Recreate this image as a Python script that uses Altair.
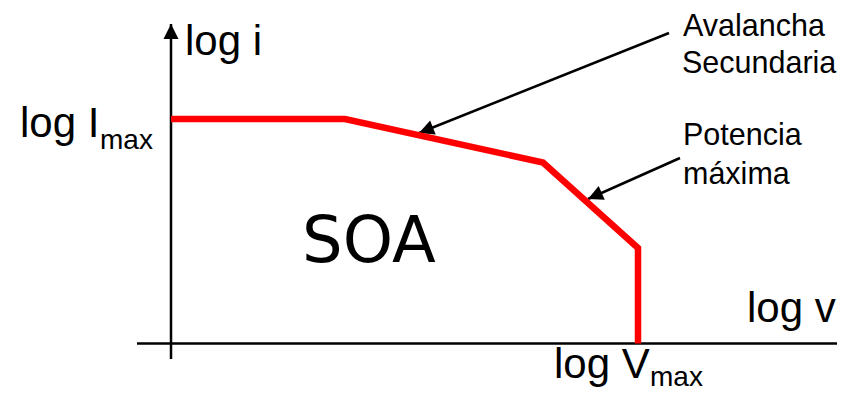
import numpy as np
import pandas as pd
import altair as alt

# Schematic coordinates: origin at the crossing of the (log v, log i) axes
# SOA boundary (red polyline)
soa_v = [0, 174, 372, 467, 467]
soa_i = [224.5, 224.5, 181, 95.5, 0]

# Axis lines (start -> end)
axis_v0 = [0, -34]
axis_i0 = [-15.5, 0]
axis_v1 = [0, 666]
axis_i1 = [319.5, 0]

# Annotation arrows (tail -> tip)
arrow_tail_v = [498, 509]
arrow_tail_i = [310.5, 185.5]
arrow_tip_v = [248, 417]
arrow_tip_i = [210.5, 144.5]

# Labels
main_labels = ["log i", "log I", "log v", "log V"]
main_v = [14, -151, 576, 383]
main_i = [288.5, 206.5, 21.5, -34]

sub_labels = ["max", "max"]
sub_v = [-71, 479]
sub_i = [194.5, -42]

note_labels = ["Avalancha", "Secundaria", "Potencia", "máxima"]
note_v = [512, 511, 512, 512]
note_i = [307.5, 270.5, 198.5, 159.5]

soa_label = ["SOA"]
soa_label_v = [131]
soa_label_i = [81.5]

X = alt.Scale(domain=[-163, 666], nice=False, zero=False)
Y = alt.Scale(domain=[-46.5, 335.5], nice=False, zero=False)

def xe(f):
    return alt.X(f, type="quantitative", scale=X, axis=None)

def ye(f):
    return alt.Y(f, type="quantitative", scale=Y, axis=None)

# segments
seg = pd.DataFrame({
    "v": axis_v0 + arrow_tail_v,
    "i": axis_i0 + arrow_tail_i,
    "v2": axis_v1 + arrow_tip_v,
    "i2": axis_i1 + arrow_tip_i,
})
rules = alt.Chart(seg).mark_rule(color="black", strokeWidth=2.5).encode(
    x=xe("v"), y=ye("i"), x2="v2", y2="i2"
)

# arrowheads (vertical axis tip + annotation tips)
tail_v = np.array([axis_v0[0]] + arrow_tail_v, dtype=float)
tail_i = np.array([axis_i0[0]] + arrow_tail_i, dtype=float)
tip_v = np.array([axis_v1[0]] + arrow_tip_v, dtype=float)
tip_i = np.array([axis_i1[0]] + arrow_tip_i, dtype=float)
ang = np.degrees(np.arctan2(tip_v - tail_v, tip_i - tail_i)) % 360
heads = pd.DataFrame({"v": tip_v, "i": tip_i, "ang": ang})
arrowheads = alt.Chart(heads).mark_point(
    shape="M0,0L-1,2L1,2Z", filled=True, color="black", opacity=1, size=225, strokeWidth=0
).encode(x=xe("v"), y=ye("i"), angle=alt.Angle("ang:Q", scale=None))

# SOA boundary
soa = pd.DataFrame({"v": soa_v, "i": soa_i, "o": list(range(len(soa_v)))})
boundary = alt.Chart(soa).mark_line(
    color="#ff0000", strokeWidth=6.5, strokeJoin="miter", strokeCap="butt"
).encode(x=xe("v"), y=ye("i"), order="o:Q")

def texts(lbls, vs, is_, size, font="Liberation Sans"):
    df = pd.DataFrame({"t": lbls, "v": vs, "i": is_})
    return alt.Chart(df).mark_text(
        align="left", baseline="alphabetic", font=font, fontSize=size, color="black"
    ).encode(x=xe("v"), y=ye("i"), text="t:N")

chart = alt.layer(
    rules,
    arrowheads,
    boundary,
    texts(main_labels, main_v, main_i, 42),
    texts(sub_labels, sub_v, sub_i, 28),
    texts(note_labels, note_v, note_i, 30.5),
    texts(soa_label, soa_label_v, soa_label_i, 64, font="DejaVu Sans"),
).properties(
    width=829, height=382, padding=0,
    autosize=alt.AutoSizeParams(type="none"),
    background="white",
).configure_view(strokeWidth=0)

chart.save("out.html", embed_options={"renderer": "svg", "actions": False})
